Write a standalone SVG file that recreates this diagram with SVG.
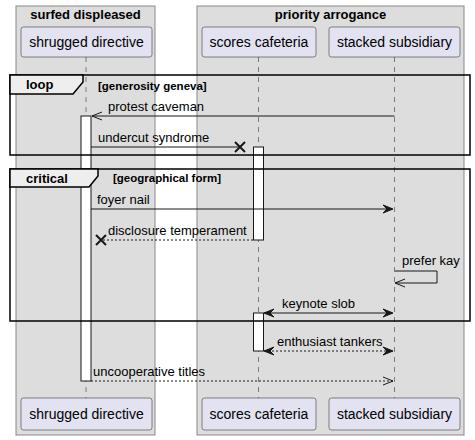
<svg xmlns="http://www.w3.org/2000/svg" width="475" height="440" viewBox="0 0 475 440">
<style>
.grp{fill:#DDDDDD;stroke:#888888;stroke-width:1}
.gt{font-family:"Liberation Sans",Arial,sans-serif;font-size:13px;font-weight:bold;fill:#000;text-anchor:middle}
.part{fill:#E2E2F0;stroke:#181818;stroke-width:0.5}
.pt{font-family:"Liberation Sans",Arial,sans-serif;font-size:14px;fill:#000;text-anchor:middle}
.life{stroke:#181818;stroke-width:0.5;stroke-dasharray:5,5;fill:none}
.act{fill:#FFFFFF;stroke:#181818;stroke-width:1}
.msg{stroke:#181818;stroke-width:1;fill:none}
.dash{stroke-dasharray:2,2}
.head{fill:#181818;stroke:#181818;stroke-width:1}
.open{fill:none;stroke:#181818;stroke-width:1}
.x{stroke:#181818;stroke-width:2;fill:none}
.mt{font-family:"Liberation Sans",Arial,sans-serif;font-size:13px;fill:#000}
.frame{fill:none;stroke:#000;stroke-width:1.5}
.tab{fill:#EEEEEE;stroke:#000;stroke-width:1.5}
.ft{font-family:"Liberation Sans",Arial,sans-serif;font-size:13px;font-weight:bold;fill:#000}
.guard{font-family:"Liberation Sans",Arial,sans-serif;font-size:11.5px;font-weight:bold;fill:#000}
</style>
<g id="box-surfed-displeased">
<rect class="grp" x="16" y="6" width="139" height="429"/>
<text class="gt" x="85.5" y="19">surfed displeased</text>
</g>
<g id="box-priority-arrogance">
<rect class="grp" x="197" y="6" width="267" height="429"/>
<text class="gt" x="330.5" y="19">priority arrogance</text>
</g>
<g id="lifelines">
<line class="life" x1="86" y1="57" x2="86" y2="398"/>
<line class="life" x1="258.5" y1="57" x2="258.5" y2="398"/>
<line class="life" x1="394.5" y1="57" x2="394.5" y2="398"/>
</g>
<g id="shrugged-directive">
<rect class="part" x="21" y="27" width="131" height="30" rx="2.5"/>
<text class="pt" x="86.5" y="47">shrugged directive</text>
<rect class="part" x="21" y="398" width="131" height="32" rx="2.5"/>
<text class="pt" x="86.5" y="419">shrugged directive</text>
</g>
<g id="scores-cafeteria">
<rect class="part" x="202" y="27" width="114" height="30" rx="2.5"/>
<text class="pt" x="259" y="47">scores cafeteria</text>
<rect class="part" x="202" y="398" width="114" height="32" rx="2.5"/>
<text class="pt" x="259" y="419">scores cafeteria</text>
</g>
<g id="stacked-subsidiary">
<rect class="part" x="329" y="27" width="131" height="30" rx="2.5"/>
<text class="pt" x="394.5" y="47">stacked subsidiary</text>
<rect class="part" x="329" y="398" width="131" height="32" rx="2.5"/>
<text class="pt" x="394.5" y="419">stacked subsidiary</text>
</g>
<g id="activations">
<rect class="act" x="81" y="116" width="10" height="265"/>
<rect class="act" x="253.5" y="147" width="10" height="93"/>
<rect class="act" x="253.5" y="313" width="10" height="38"/>
</g>
<g id="connectors">
<!-- protest caveman -->
<line class="msg" x1="394.5" y1="116" x2="92" y2="116"/>
<polyline class="open" points="102,112 92,116 102,120"/>
<text class="mt" x="108" y="111">protest caveman</text>
<!-- undercut syndrome -->
<line class="msg" x1="91" y1="147" x2="240" y2="147"/>
<path class="x" d="M235,142 L245,152 M235,152 L245,142"/>
<text class="mt" x="98" y="142">undercut syndrome</text>
<!-- foyer nail -->
<line class="msg" x1="91" y1="209" x2="392" y2="209"/>
<polygon class="head" points="383,205 393,209 383,213 387,209"/>
<text class="mt" x="97" y="204">foyer nail</text>
<!-- disclosure temperament -->
<line class="msg dash" x1="253" y1="240" x2="102" y2="240"/>
<path class="x" d="M96,235 L106,245 M96,245 L106,235"/>
<text class="mt" x="108" y="235">disclosure temperament</text>
<!-- prefer kay -->
<polyline class="msg" points="395,271 437,271 437,283 395,283"/>
<polyline class="open" points="405,279 395,283 405,287"/>
<text class="mt" x="402" y="265">prefer kay</text>
<!-- keynote slob -->
<line class="msg" x1="264" y1="313" x2="392" y2="313"/>
<polygon class="head" points="274,309 264,313 274,317 270,313"/>
<polygon class="head" points="383,309 393,313 383,317 387,313"/>
<text class="mt" x="282" y="308">keynote slob</text>
<!-- enthusiast tankers -->
<line class="msg dash" x1="264" y1="351" x2="392" y2="351"/>
<polygon class="head" points="274,347 264,351 274,355 270,351"/>
<polygon class="head" points="383,347 393,351 383,355 387,351"/>
<text class="mt" x="277" y="346">enthusiast tankers</text>
<!-- uncooperative titles -->
<line class="msg dash" x1="91" y1="381" x2="393" y2="381"/>
<polyline class="open" points="383,377 393,381 383,385"/>
<text class="mt" x="93" y="376">uncooperative titles</text>
</g>
<g id="loop-frame">
<rect class="frame" x="10" y="75" width="460" height="80"/>
<polygon class="tab" points="10,75 83,75 83,82 73,94 10,94"/>
<text class="ft" x="26" y="89">loop</text>
<text class="guard" x="98" y="89.5">[generosity geneva]</text>
</g>
<g id="critical-frame">
<rect class="frame" x="10" y="169" width="460" height="152"/>
<polygon class="tab" points="10,169 98,169 98,176 89,187 10,187"/>
<text class="ft" x="26" y="183">critical</text>
<text class="guard" x="113" y="182">[geographical form]</text>
</g>
</svg>
